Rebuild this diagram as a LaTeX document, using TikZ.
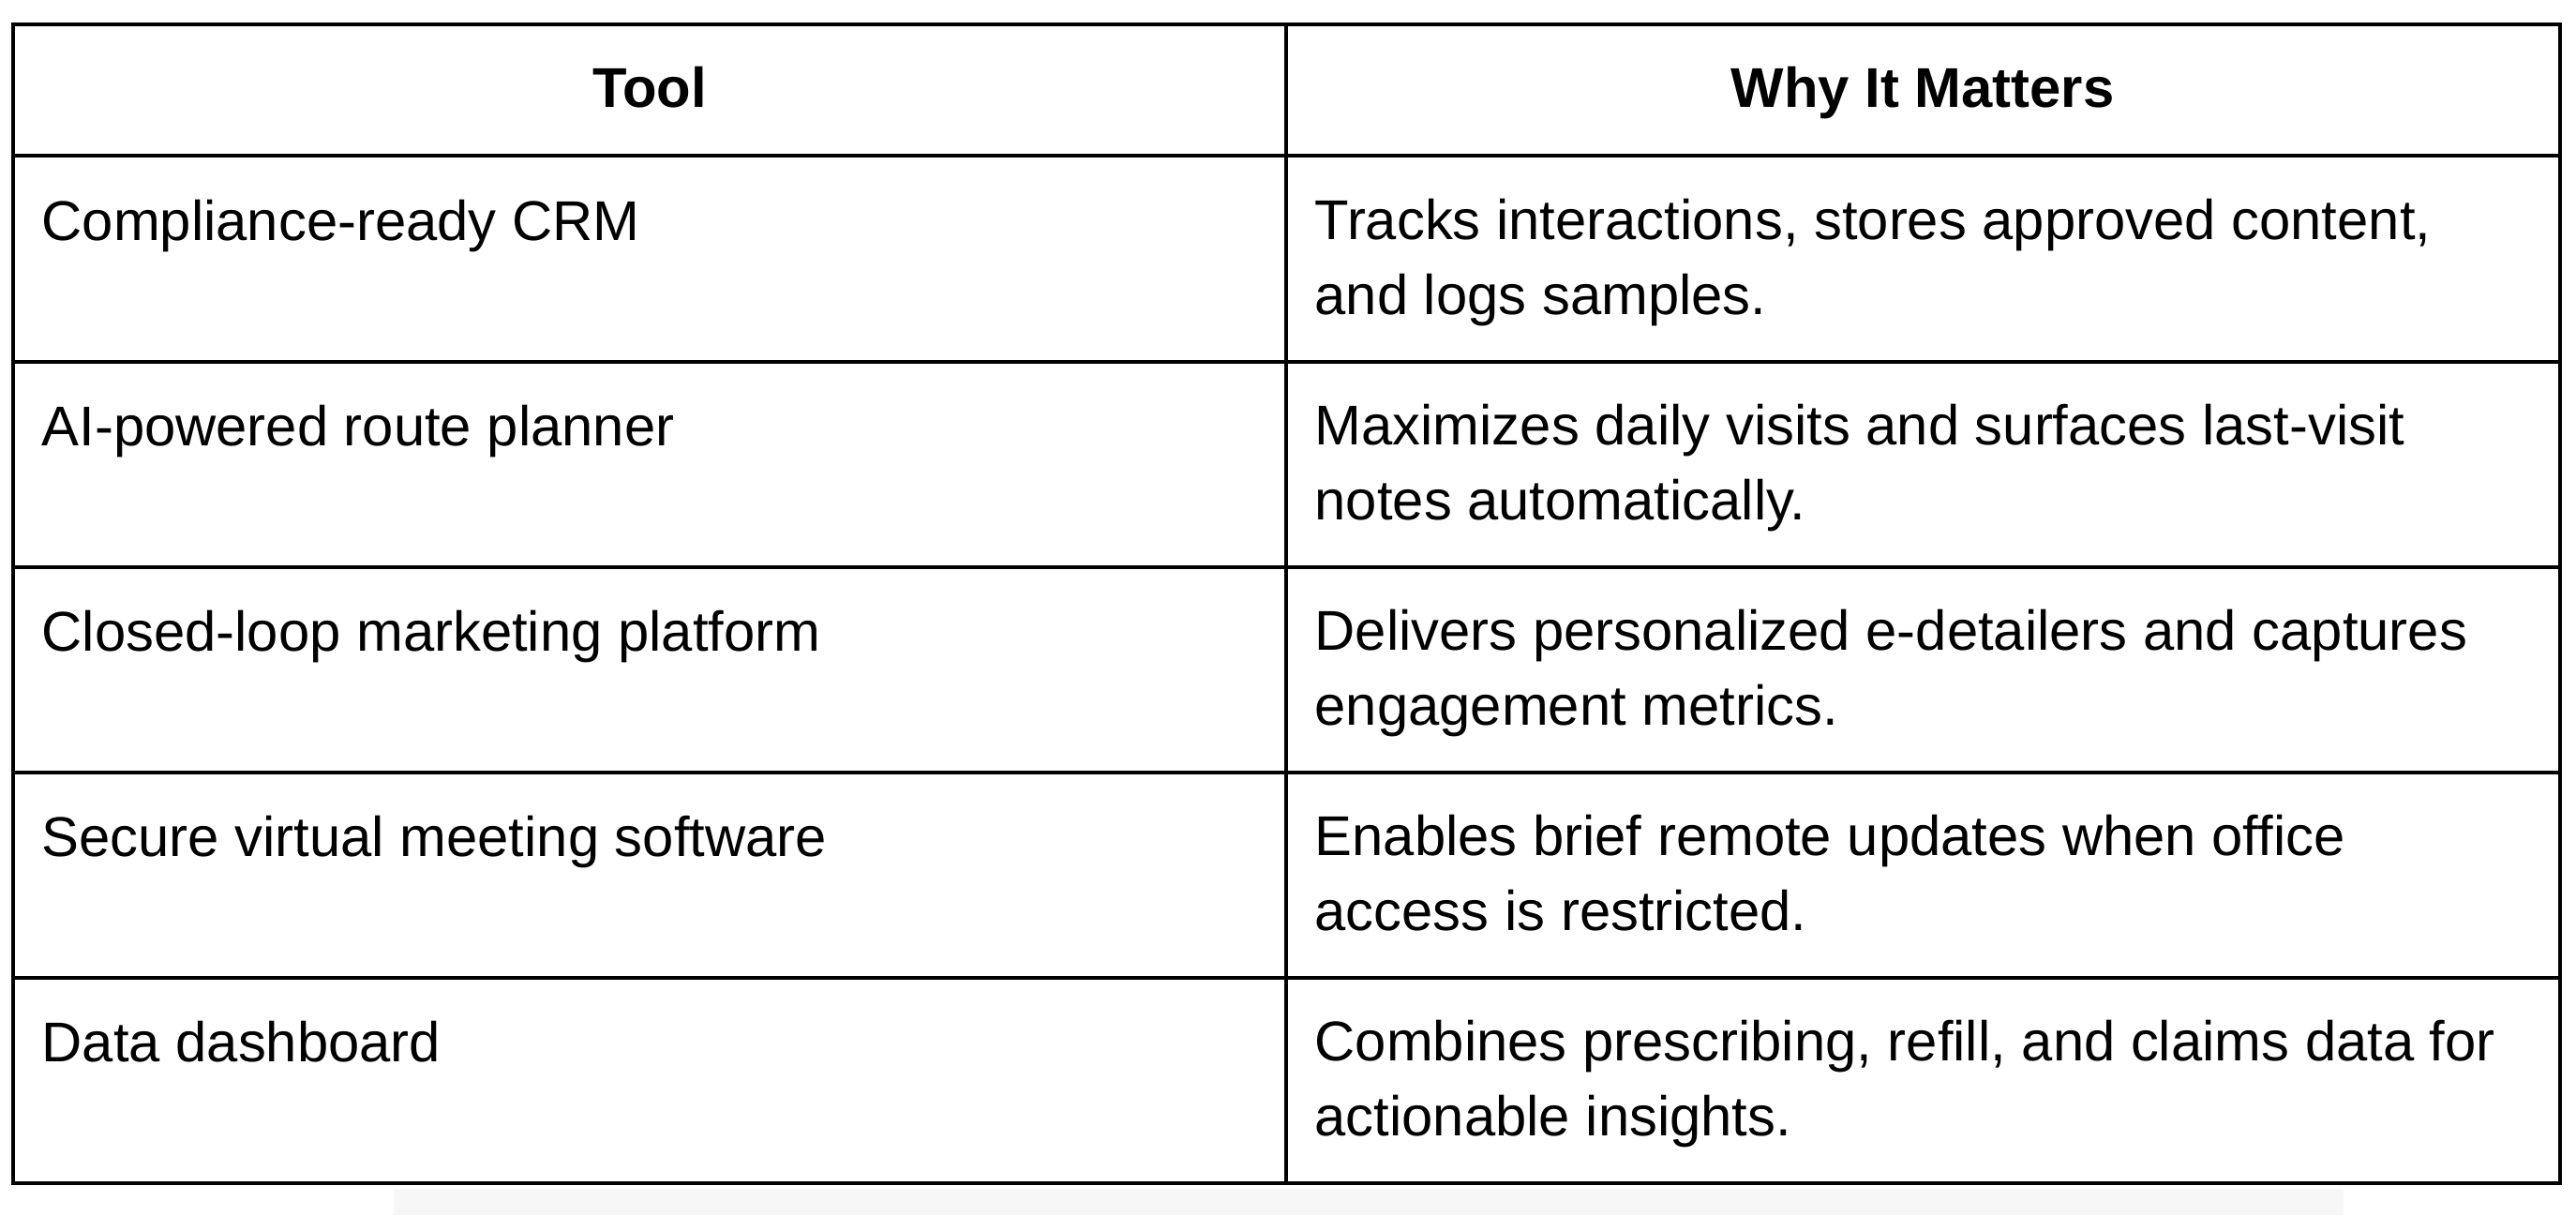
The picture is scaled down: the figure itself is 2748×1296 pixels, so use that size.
\documentclass[tikz,border=0pt]{standalone}
\usepackage{fontspec}
\setmainfont{Liberation Sans}
\begin{document}
\begin{tikzpicture}[x=0.01cm,y=-0.01cm,
  cell/.style={anchor=base west,inner sep=0pt,align=left,font=\fontsize{17}{22.5}\selectfont},
  head/.style={anchor=base,inner sep=0pt,font=\fontsize{17}{22.5}\selectfont\bfseries},
  grid/.style={line width=1pt,black}]
\useasboundingbox (0,0) rectangle (2748,1296);
\fill[black!3] (420,1268) rectangle (2500,1296);
\draw[grid] (14,26) rectangle (2731,1262);
\draw[grid] (1372,26) -- (1372,1262);
\foreach \y in {166,386,605,824,1043} \draw[grid] (14,\y) -- (2731,\y);
\node[head] (h1) at (693,114) {Tool};
\node[head] (h2) at (2051,114) {Why It Matters};
\node[cell] (a1) at (44,256) {Compliance-ready CRM};
\node[cell] (b1) at (1402,335) {Tracks interactions, stores approved content,\\and logs samples.};
\node[cell] (a2) at (44,475) {AI-powered route planner};
\node[cell] (b2) at (1402,554) {Maximizes daily visits and surfaces last-visit\\notes automatically.};
\node[cell] (a3) at (44,694) {Closed-loop marketing platform};
\node[cell] (b3) at (1402,773) {Delivers personalized e-detailers and captures\\engagement metrics.};
\node[cell] (a4) at (44,913) {Secure virtual meeting software};
\node[cell] (b4) at (1402,992) {Enables brief remote updates when office\\access is restricted.};
\node[cell] (a5) at (44,1132) {Data dashboard};
\node[cell] (b5) at (1402,1211) {Combines prescribing, refill, and claims data for\\actionable insights.};
\end{tikzpicture}
\end{document}
